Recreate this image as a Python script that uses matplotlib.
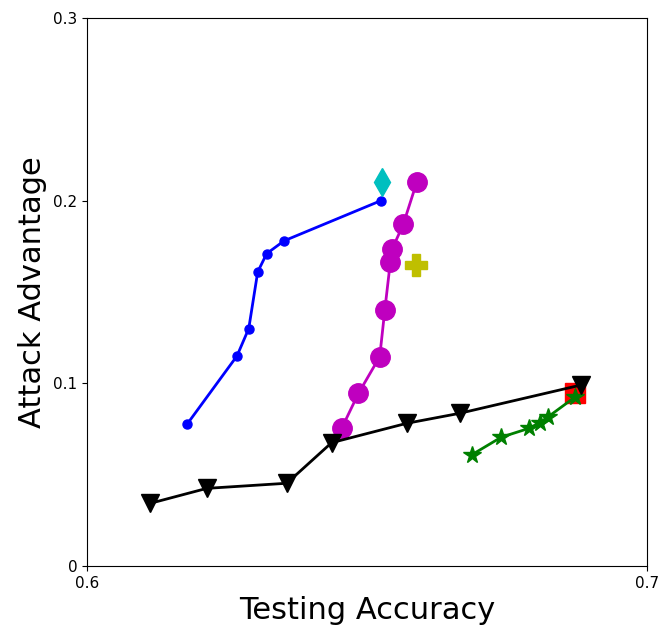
import numpy as np
from matplotlib import pyplot as plt

# blue curve
blue_x = [0.6179, 0.6268, 0.6289, 0.6305, 0.6321, 0.6352, 0.6525]
blue_y = [0.0777, 0.115, 0.130, 0.161, 0.171, 0.178, 0.200]

# magenta curve
mag_x = [0.6455, 0.6485, 0.6523, 0.6532, 0.6542, 0.6545, 0.6565, 0.6589]
mag_y = [0.0754, 0.0945, 0.1146, 0.140, 0.1666, 0.1734, 0.187, 0.210]

# black curve
blk_x = [0.6113, 0.6214, 0.6357, 0.6437, 0.6571, 0.6666, 0.6883]
blk_y = [0.0343, 0.0425, 0.0453, 0.0675, 0.0781, 0.0836, 0.0991]

# green curve
grn_x = [0.6687, 0.6740, 0.6790, 0.6809, 0.6824, 0.6871]
grn_y = [0.0608, 0.0705, 0.0754, 0.0785, 0.0817, 0.0923]

# single points
cyan_pt = (0.6527, 0.210)
yellow_pt = (0.6587, 0.165)
red_pt = (0.6871, 0.0945)

fig = plt.figure(figsize=(6.64, 6.3), dpi=100)
ax = fig.add_axes([0.131, 0.1016, 0.843, 0.8698])

ax.plot(blue_x, blue_y, 'bo-', markersize=6.5, linewidth=2)
ax.plot(mag_x, mag_y, 'mo-', markersize=14, linewidth=2)
ax.plot(*cyan_pt, 'cd', markersize=14)
ax.plot(*yellow_pt, 'yP', markersize=16)
ax.plot(*red_pt, 'rs', markersize=15)
ax.plot(grn_x, grn_y, 'g*-', markersize=13, linewidth=2)
ax.plot(blk_x, blk_y, 'kv-', markersize=13, linewidth=2)

ax.set_xlim(0.6, 0.7)
ax.set_ylim(0, 0.3)
ax.set_xticks([0.6, 0.7])
ax.set_xticklabels(['0.6', '0.7'])
ax.set_yticks([0, 0.1, 0.2, 0.3])
ax.set_yticklabels(['0', '0.1', '0.2', '0.3'])
ax.tick_params(labelsize=11)
ax.set_xlabel('Testing Accuracy', fontsize=22)
ax.set_ylabel('Attack Advantage', fontsize=22)

fig.savefig('out.png')
